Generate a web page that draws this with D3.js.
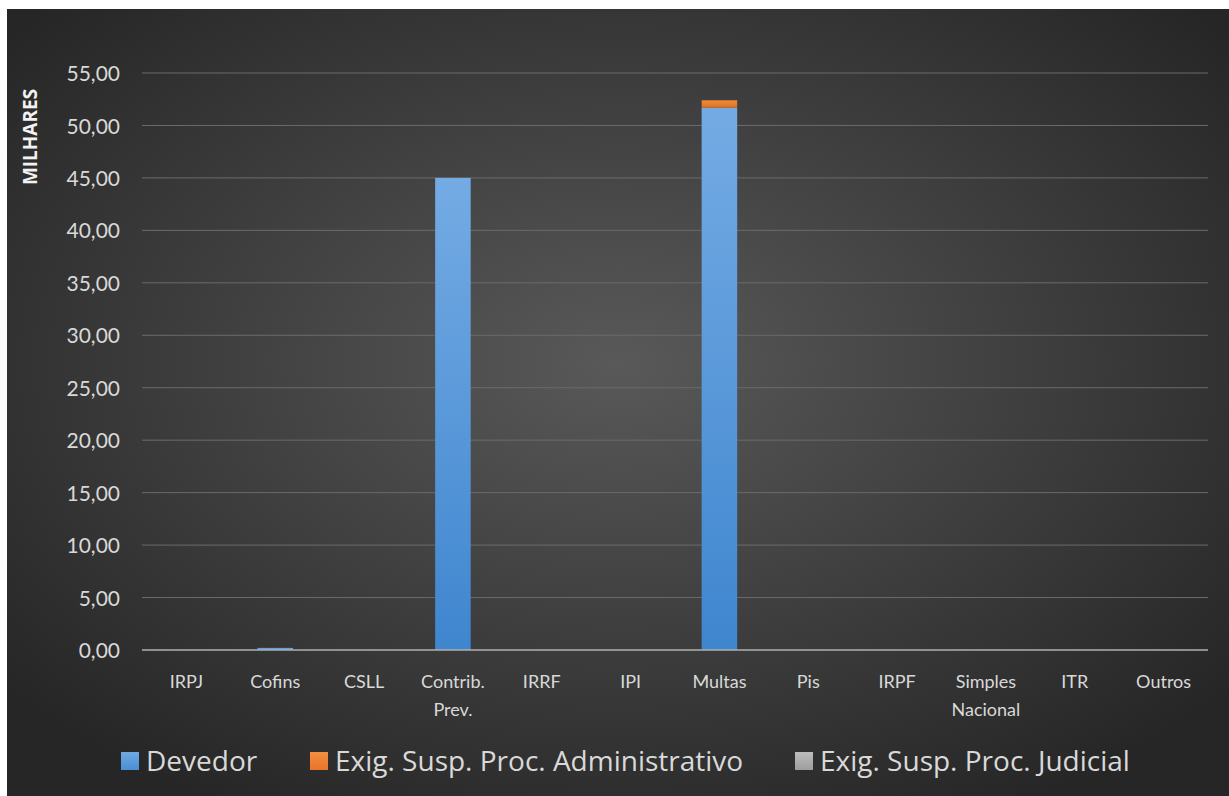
<!DOCTYPE html>
<html>
<head>
<meta charset="utf-8">
<script src="https://cdn.jsdelivr.net/npm/d3@7"></script>
<style>
html,body{margin:0;padding:0;background:#fff;}
svg{display:block;}
text{font-family:Lato,"Open Sans","DejaVu Sans",sans-serif;}
</style>
</head>
<body>
<svg id="chart" width="1229" height="796"></svg>
<script>
const categories = ["IRPJ","Cofins","CSLL","Contrib. Prev.","IRRF","IPI","Multas","Pis","IRPF","Simples Nacional","ITR","Outros"];
const devedor = [0, 0.2, 0, 45.0, 0, 0, 51.7, 0, 0, 0, 0, 0];
const exigAdmin = [0, 0, 0, 0, 0, 0, 0.7, 0, 0, 0, 0, 0];
const exigJudicial = [0, 0, 0, 0, 0, 0, 0, 0, 0, 0, 0, 0];
const yTicks = [0,5,10,15,20,25,30,35,40,45,50,55];
const seriesNames = ["Devedor","Exig. Susp. Proc. Administrativo","Exig. Susp. Proc. Judicial"];
const seriesColors = ["url(#gBlue)","url(#gOrange)","url(#gGray)"];

const svg = d3.select("#chart");
const defs = svg.append("defs");
const rg = defs.append("radialGradient").attr("id","bg").attr("cx","50%").attr("cy","45%").attr("r","65%");
rg.append("stop").attr("offset","0%").attr("stop-color","#595959");
rg.append("stop").attr("offset","100%").attr("stop-color","#262626");
function lg(id, c1, c2){
  const g = defs.append("linearGradient").attr("id",id).attr("x1",0).attr("y1",0).attr("x2",0).attr("y2",1);
  g.append("stop").attr("offset","0%").attr("stop-color",c1);
  g.append("stop").attr("offset","100%").attr("stop-color",c2);
}
lg("gBlue","#74abe4","#3f86cf");
lg("gOrange","#f28a3c","#e0701f");
lg("gGray","#b5b5b5","#999999");
lg("lBlue","#6fa9e2","#4a8fd4");
lg("lOrange","#f48e42","#e8742a");
lg("lGray","#bdbdbd","#9d9d9d");
const legendFills = ["url(#lBlue)","url(#lOrange)","url(#lGray)"];

svg.append("rect").attr("x",7).attr("y",9).attr("width",1222).attr("height",787).attr("fill","url(#bg)");

const margin = {left:142, right:1208, top:73, bottom:650};
const x = d3.scaleBand().domain(categories).range([margin.left, margin.right]).paddingInner(0.6).paddingOuter(0.3);
const y = d3.scaleLinear().domain([0,55]).range([margin.bottom, margin.top]);

// gridlines
svg.append("g").selectAll("line").data(yTicks.filter(d=>d>0)).join("line")
  .attr("x1",margin.left).attr("x2",margin.right)
  .attr("y1",d=>y(d)).attr("y2",d=>y(d))
  .attr("stroke","#6b6b6b").attr("stroke-width",1);

// y axis labels
const yAxis = d3.axisLeft(y).tickValues(yTicks).tickSize(0).tickPadding(0)
  .tickFormat(d=>d3.format(".2f")(d).replace(".",","));
const ya = svg.append("g").attr("transform",`translate(120,0)`).call(yAxis);
ya.select(".domain").remove();
ya.attr("font-family",null).attr("font-size",null);
ya.selectAll("text").attr("fill","#d9d9d9").style("font-size","21px").attr("x",0).attr("dy","0.36em");

// stacked bars
const data = categories.map((c,i)=>({cat:c, s0:devedor[i], s1:exigAdmin[i], s2:exigJudicial[i]}));
const stack = d3.stack().keys(["s0","s1","s2"])(data);
svg.append("g").selectAll("g").data(stack).join("g")
  .attr("fill",(d,i)=>seriesColors[i])
  .selectAll("rect").data(d=>d).join("rect")
  .attr("x",d=>x(d.data.cat)).attr("width",x.bandwidth())
  .attr("y",d=>y(d[1])).attr("height",d=>Math.max(0,y(d[0])-y(d[1])));

// x axis
const xa = svg.append("g").attr("transform",`translate(0,${margin.bottom})`)
  .call(d3.axisBottom(x).tickSize(0).tickPadding(0));
xa.attr("font-family",null).attr("font-size",null);
xa.select(".domain").attr("stroke","#b0b0b0").attr("stroke-width",1.5)
  .attr("d",`M${margin.left},0H${margin.right}`);
xa.selectAll(".tick text").each(function(d){
  const t = d3.select(this);
  t.text(null).attr("fill","#d9d9d9").style("font-size","18px").attr("y",0).attr("dy",null);
  let lines = [d];
  if(d==="Contrib. Prev.") lines=["Contrib.","Prev."];
  if(d==="Simples Nacional") lines=["Simples","Nacional"];
  lines.forEach((l,i)=>t.append("tspan").attr("x",0).attr("y",38+i*28).text(l));
});

// y title
svg.append("text").attr("transform","translate(37,137) rotate(-90)")
  .attr("text-anchor","middle").attr("fill","#f2f2f2")
  .style("font-size","19px").style("font-family","'Open Sans',sans-serif").attr("font-weight","bold")
  .text("MILHARES");

// legend
const leg = svg.append("g");
const legX = [121, 310, 795];
seriesNames.forEach((n,i)=>{
  const g = leg.append("g").attr("transform",`translate(${legX[i]},0)`);
  g.append("rect").attr("x",0).attr("y",752).attr("width",18).attr("height",18).attr("fill",legendFills[i]);
  g.append("text").attr("x",25).attr("y",771).attr("fill","#d9d9d9")
    .style("font-size","28px").style("font-family","'Open Sans',sans-serif").text(n);
});
</script>
</body>
</html>
